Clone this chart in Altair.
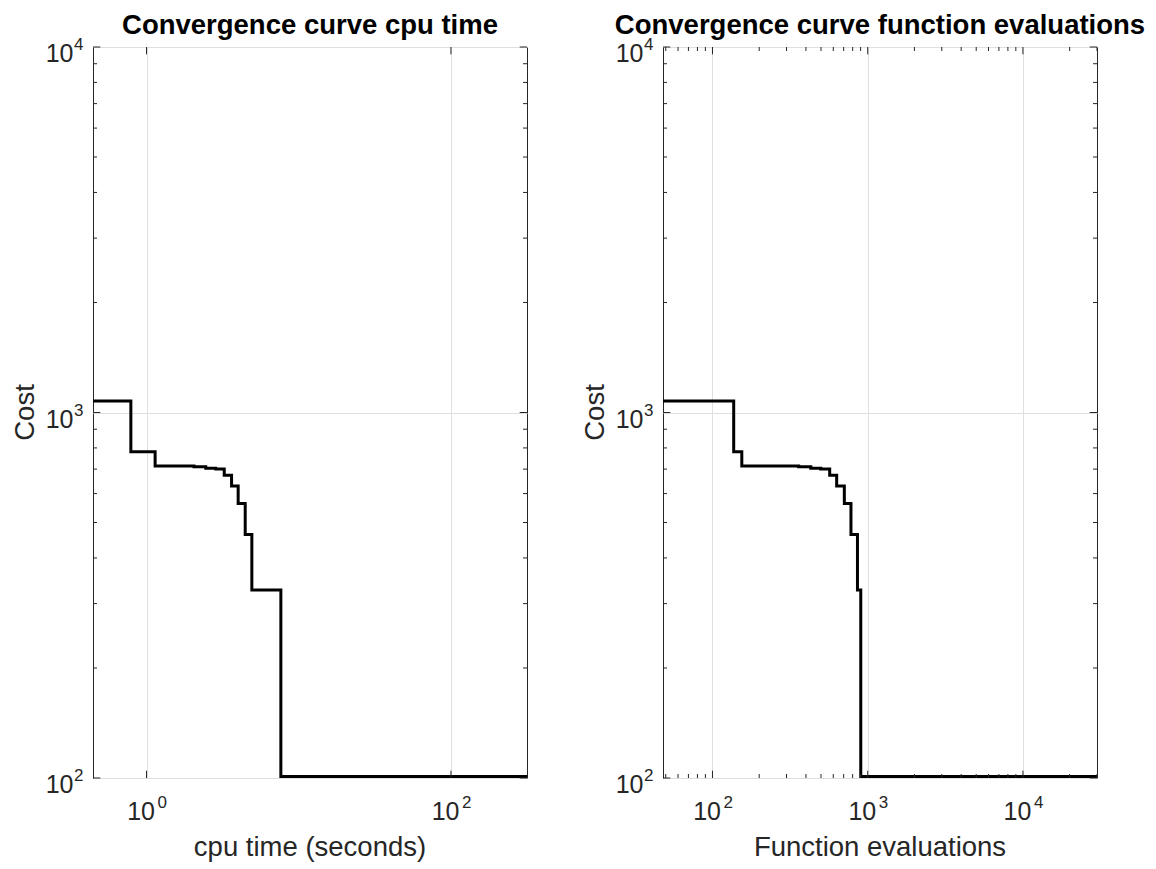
import altair as alt
import pandas as pd

# Best cost found so far; both curves share the same sequence of improvements
best_cost = [1075, 781, 714, 710, 704, 700, 673, 629, 564, 464, 327, 101, 101]
cpu_time = [0.445, 0.789, 1.139, 2.05, 2.45, 2.85, 3.24, 3.62, 4.0, 4.45, 4.92, 7.63, 316]
func_evals = [48, 137, 154.5, 359, 430, 498, 569, 631, 707, 780, 859, 902, 30000]

cost_domain = [100, 10000]
cpu_domain = [0.445, 316]
evals_domain = [48, 30000]

# Tick positions and exponent labels (10^k)
cost_major = [100, 1000, 10000]
cost_exps = ["2", "3", "4"]
cost_minor = [200, 300, 400, 500, 600, 700, 800, 900,
              2000, 3000, 4000, 5000, 6000, 7000, 8000, 9000]

cpu_major = [1, 100]
cpu_exps = ["0", "2"]
cpu_minor = []

evals_major = [100, 1000, 10000]
evals_exps = ["2", "3", "4"]
evals_minor = [50, 60, 70, 80, 90,
               200, 300, 400, 500, 600, 700, 800, 900,
               2000, 3000, 4000, 5000, 6000, 7000, 8000, 9000,
               20000, 30000]

W, H = 434, 731
INK = "#262626"
GRID = "#dfdfdf"
FONT = "Liberation Sans"
LABEL_SIZE = 25
EXP_SIZE = 17
TITLE_SIZE = 27.5
MAJOR_LEN = 7.3
MINOR_LEN = 4


def panel(x_vals, x_domain, x_major, x_exps, x_minor, x_title, title):
    xs = alt.Scale(type="log", domain=x_domain, nice=False, zero=False)
    ys = alt.Scale(type="log", domain=cost_domain, nice=False, zero=False)
    # axes only supply the grid; one shared definition for every layer
    x_axis = alt.Axis(values=x_major, grid=True, gridColor=GRID, gridWidth=1,
                      labels=False, ticks=False, domain=False, title="")
    y_axis = alt.Axis(values=cost_major, grid=True, gridColor=GRID, gridWidth=1,
                      labels=False, ticks=False, domain=False, title="")
    X = lambda f: alt.X(f, scale=xs, axis=x_axis, title="")
    Y = lambda f: alt.Y(f, scale=ys, axis=y_axis, title="")

    curve = alt.Chart(pd.DataFrame({"x": x_vals, "cost": best_cost})).mark_line(
        interpolate="step-after", color="black", strokeWidth=3
    ).encode(x=X("x:Q"), y=Y("cost:Q"))

    layers = [curve]

    # inward tick marks on all four sides
    def yticks(values, length):
        base = alt.Chart(pd.DataFrame({"cost": values})).mark_rule(color=INK, strokeWidth=1)
        return [
            base.encode(y=Y("cost:Q"), x=alt.value(0), x2=alt.value(length)),
            base.encode(y=Y("cost:Q"), x=alt.value(W - length), x2=alt.value(W)),
        ]

    def xticks(values, length):
        if not values:
            return []
        base = alt.Chart(pd.DataFrame({"x": values})).mark_rule(color=INK, strokeWidth=1)
        return [
            base.encode(x=X("x:Q"), y=alt.value(H - length), y2=alt.value(H)),
            base.encode(x=X("x:Q"), y=alt.value(0), y2=alt.value(length)),
        ]

    layers += yticks(cost_major, MAJOR_LEN) + yticks(cost_minor, MINOR_LEN)
    layers += xticks(x_major, MAJOR_LEN) + xticks(x_minor, MINOR_LEN)

    # tick labels written as 10 with a raised exponent
    ylab = pd.DataFrame({"cost": cost_major, "exp": cost_exps, "base": ["10"] * len(cost_major)})
    layers.append(alt.Chart(ylab).mark_text(
        align="right", baseline="alphabetic", dy=15, font=FONT,
        fontSize=LABEL_SIZE, color=INK
    ).encode(y=Y("cost:Q"), x=alt.value(-19.5), text="base:N"))
    layers.append(alt.Chart(ylab).mark_text(
        align="left", baseline="alphabetic", dy=3, font=FONT,
        fontSize=EXP_SIZE, color=INK
    ).encode(y=Y("cost:Q"), x=alt.value(-19), text="exp:N"))

    xlab = pd.DataFrame({"x": x_major, "exp": x_exps, "base": ["10"] * len(x_major)})
    layers.append(alt.Chart(xlab).mark_text(
        align="right", baseline="alphabetic", dx=8.5, font=FONT,
        fontSize=LABEL_SIZE, color=INK
    ).encode(x=X("x:Q"), y=alt.value(H + 42), text="base:N"))
    layers.append(alt.Chart(xlab).mark_text(
        align="left", baseline="alphabetic", dx=11, font=FONT,
        fontSize=EXP_SIZE, color=INK
    ).encode(x=X("x:Q"), y=alt.value(H + 30), text="exp:N"))

    # axis titles and panel title
    layers.append(alt.Chart(pd.DataFrame({"t": [x_title]})).mark_text(
        align="center", baseline="alphabetic", font=FONT,
        fontSize=TITLE_SIZE, color=INK
    ).encode(x=alt.value(W / 2), y=alt.value(H + 78), text="t:N"))
    layers.append(alt.Chart(pd.DataFrame({"t": ["Cost"]})).mark_text(
        align="center", baseline="alphabetic", angle=270, font=FONT,
        fontSize=TITLE_SIZE, color=INK
    ).encode(x=alt.value(-59), y=alt.value(H / 2), text="t:N"))
    layers.append(alt.Chart(pd.DataFrame({"t": [title]})).mark_text(
        align="center", baseline="alphabetic", font=FONT, fontWeight="bold",
        fontSize=TITLE_SIZE, color="black"
    ).encode(x=alt.value(W / 2), y=alt.value(-13), text="t:N"))

    return alt.layer(*layers).properties(width=W, height=H)


left = panel(cpu_time, cpu_domain, cpu_major, cpu_exps, cpu_minor,
             "cpu time (seconds)", "Convergence curve cpu time")
right = panel(func_evals, evals_domain, evals_major, evals_exps, evals_minor,
              "Function evaluations", "Convergence curve function evaluations")

chart = alt.hconcat(left, right, spacing=136, bounds="flush").properties(
    padding={"left": 11, "top": 11, "right": 5, "bottom": 5},
    background="white",
).configure_view(stroke=INK, strokeWidth=1)

chart.save("out.html", embed_options={"renderer": "svg", "actions": False})
